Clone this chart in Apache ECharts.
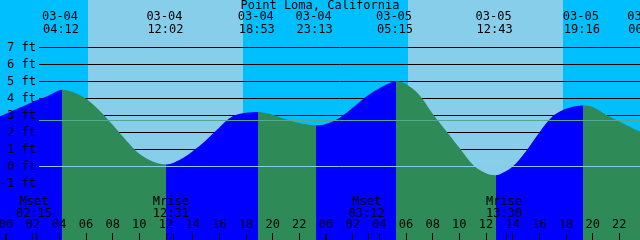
<!DOCTYPE html>
<html><head><meta charset="utf-8">
<script src="https://cdn.jsdelivr.net/npm/echarts@6/dist/echarts.min.js"></script>
<style>html,body{margin:0;padding:0;background:#00BFFF}#c{width:640px;height:240px}</style>
</head><body><div id="c"></div>
<script>
// ---------- data ----------
const title = 'Point Loma, California';
const dayOffset = {'03-04': 0, '03-05': 24, '03-06': 48};

// tide readings: hours after 03-04 00:00, height in feet
const readHours = [-0.45, 0, 1, 2, 3, 4, 5, 6, 7, 8, 9, 10, 11, 13, 14, 15, 16, 17, 18, 19, 20, 21, 22, 23,
                   24, 25, 26, 27, 28, 29, 30, 31, 32, 33, 34, 35, 36, 37, 38, 39, 40, 41, 42, 43, 44, 45, 46, 47, 47.55];
const readFeet  = [2.95, 3.1, 3.45, 3.8, 4.1, 4.48, 4.38, 3.98, 3.3, 2.45, 1.55, 0.75, 0.3, 0.38, 0.9, 1.55, 2.3, 2.95, 3.16, 3.2, 3.05, 2.78, 2.56, 2.43,
                   2.5, 2.85, 3.45, 4.1, 4.6, 4.98, 4.85, 4.2, 3.1, 2.1, 1.1, 0.12, -0.4, -0.47, 0.0, 0.9, 2.0, 2.95, 3.4, 3.58, 3.5, 3.05, 2.65, 2.25, 2.07];

// high / low tide events
const eventDates = ['03-04', '03-04', '03-04', '03-04', '03-05', '03-05', '03-05', '03-06'];
const eventTimes = ['04:12', '12:02', '18:53', '23:13', '05:15', '12:43', '19:16', '00:06'];
const eventKinds = ['high', 'low', 'high', 'low', 'high', 'low', 'high', 'low'];
const eventFeet  = [4.52, 0.12, 3.21, 2.42, 5.02, -0.51, 3.59, 2.02];

// sun
const sunDates    = ['03-04', '03-05'];
const sunriseTime = ['06:09', '06:09'];
const sunsetTime  = ['17:47', '17:47'];

// moon
const moonDates = ['03-04', '03-04', '03-05', '03-05'];
const moonNames = ['Mset', 'Mrise', 'Mset', 'Mrise'];
const moonTimes = ['02:15', '12:31', '03:12', '13:30'];

// axes
const hourTicks = [0, 2, 4, 6, 8, 10, 12, 14, 16, 18, 20, 22, 24, 26, 28, 30, 32, 34, 36, 38, 40, 42, 44, 46];
const midnightTicks = [0, 24];
const footTicks = [-1, 0, 1, 2, 3, 4, 5, 6, 7];
const meanSeaLevel = 2.71;
const datumLevel = 0;

// ---------- build ----------
const X_MIN = -0.45, X_MAX = 47.55, Y_MIN = -4.324, Y_MAX = 9.794;
const FONT = '"DejaVu Sans Mono", "Liberation Mono", monospace';
const FS = 12;
const NIGHT = '#00BFFF', DAY = '#87CEEB', FLOOD = '#0000FF', EBB = '#2E8B57';

function toHour(d, t) { const p = t.split(':').map(Number); return dayOffset[d] + p[0] + p[1] / 60; }
const pad2 = n => (n < 10 ? '0' : '') + n;

const eventHours = eventDates.map((d, i) => toHour(d, eventTimes[i]));
const curve = readHours.map((h, i) => [h, readFeet[i]])
  .concat(eventHours.map((h, i) => [h, eventFeet[i]]))
  .sort((a, b) => a[0] - b[0]);

// flood / ebb pieces
const pieces = [];
let prev = -Infinity;
eventHours.forEach((h, i) => {
  const p = {max: h, color: eventKinds[i] === 'high' ? FLOOD : EBB};
  if (prev !== -Infinity) p.min = prev;
  pieces.push(p); prev = h;
});
pieces.push({min: prev, color: eventKinds[eventKinds.length - 1] === 'low' ? FLOOD : EBB});

// day / night bands
const bands = [];
let start = X_MIN;
sunDates.forEach((d, i) => {
  const r = toHour(d, sunriseTime[i]), s = toHour(d, sunsetTime[i]);
  bands.push([start, r, 0]); bands.push([r, s, 1]); start = s;
});
bands.push([start, X_MAX, 0]);

const moonHours = moonDates.map((d, i) => toHour(d, moonTimes[i]));
const GUTTER = 39;

const chart = echarts.init(document.getElementById('c'), null, {renderer: 'canvas'});
const commonX = {type: 'value', min: X_MIN, max: X_MAX, position: 'bottom',
                 axisLine: {show: false, onZero: false}, splitLine: {show: false}, z: 10};
chart.setOption({
  animation: false,
  title: {text: title, left: 'center', top: 0, padding: 0,
          textStyle: {fontFamily: FONT, fontSize: FS, fontWeight: 'normal', color: '#000'}},
  grid: {left: 0, right: 0, top: 0, bottom: 0, containLabel: false, outerBoundsMode: 'none'},
  xAxis: [
    Object.assign({}, commonX, {
      axisTick: {show: true, inside: true, length: 7, customValues: hourTicks, lineStyle: {color: '#000', width: 1}},
      axisLabel: {show: true, inside: true, margin: 9, customValues: hourTicks, hideOverlap: false,
                  fontFamily: FONT, fontSize: FS, color: '#000',
                  formatter: v => pad2(((Math.round(v) % 24) + 24) % 24)}
    }),
    Object.assign({}, commonX, {
      axisTick: {show: true, inside: true, length: 6, customValues: midnightTicks, lineStyle: {color: '#000', width: 2}},
      axisLabel: {show: false}
    }),
    Object.assign({}, commonX, {
      axisTick: {show: true, inside: true, length: 7, customValues: moonHours, lineStyle: {color: '#000', width: 1}},
      axisLabel: {show: false}
    })
  ],
  yAxis: {type: 'value', min: Y_MIN, max: Y_MAX, z: 10,
          axisLine: {show: false, onZero: false}, axisTick: {show: false}, splitLine: {show: false},
          axisLabel: {show: true, inside: true, margin: 36, align: 'right', customValues: footTicks,
                      fontFamily: FONT, fontSize: FS, color: '#000', formatter: v => v + ' ft'}},
  visualMap: {show: false, type: 'piecewise', dimension: 0, seriesIndex: 2, pieces: pieces},
  series: [
    { // day / night
      type: 'custom', z: 0, silent: true, data: bands, encode: {x: [0, 1]},
      renderItem: (p, api) => {
        const a = api.coord([api.value(0), Y_MAX]), b = api.coord([api.value(1), Y_MIN]);
        return {type: 'rect', shape: {x: Math.round(a[0]), y: a[1], width: Math.round(b[0]) - Math.round(a[0]), height: b[1] - a[1]},
                style: {fill: api.value(2) ? DAY : NIGHT}};
      }
    },
    { // feet grid lines
      type: 'custom', z: 1, silent: true, data: footTicks.filter(v => v !== datumLevel).map(v => [v]), encode: {y: 0},
      renderItem: (p, api) => {
        const y = Math.floor(api.coord([X_MIN, api.value(0)])[1]) + 0.5;
        return {type: 'line', shape: {x1: GUTTER, y1: y, x2: 640, y2: y}, style: {stroke: '#000', lineWidth: 1}};
      }
    },
    { // water
      type: 'line', z: 2, data: curve, smooth: 0.35, symbol: 'none', silent: true,
      lineStyle: {width: 0}, areaStyle: {opacity: 1, origin: 'start'}
    },
    { // datum and mean sea level
      type: 'custom', z: 3, silent: true, data: [[datumLevel, 0], [meanSeaLevel, 1]], encode: {y: 0},
      renderItem: (p, api) => {
        const y = Math.floor(api.coord([X_MIN, api.value(0)])[1]) + 0.5;
        return {type: 'line', shape: {x1: GUTTER, y1: y, x2: 640, y2: y},
                style: {stroke: api.value(1) ? '#55A890' : '#8CC8E8', lineWidth: 1}};
      }
    },
    { // tide event labels
      type: 'custom', z: 4, silent: true, clip: false, data: eventHours.map((h, i) => [h, i]), encode: {x: 0},
      renderItem: (p, api) => {
        const x = api.coord([api.value(0), 0])[0], i = api.value(1);
        const st = t => ({text: t, fill: '#000', fontFamily: FONT, fontSize: FS, align: 'center', verticalAlign: 'middle'});
        return {type: 'group', children: [
          {type: 'text', x: x - 2, y: 17, style: st(eventDates[i])},
          {type: 'text', x: x - 1, y: 29.5, style: st(eventTimes[i])}
        ]};
      }
    },
    { // moon labels
      type: 'custom', z: 4, silent: true, clip: false, data: moonHours.map((h, i) => [h, i]), encode: {x: 0},
      renderItem: (p, api) => {
        const x = api.coord([api.value(0), 0])[0], i = api.value(1);
        const st = t => ({text: t, fill: '#000', fontFamily: FONT, fontSize: FS, align: 'center', verticalAlign: 'middle'});
        return {type: 'group', children: [
          {type: 'text', x: x - 2, y: 201.5, style: st(moonNames[i])},
          {type: 'text', x: x - 2, y: 213.5, style: st(moonTimes[i])}
        ]};
      }
    }
  ]
});
</script>
</body></html>
